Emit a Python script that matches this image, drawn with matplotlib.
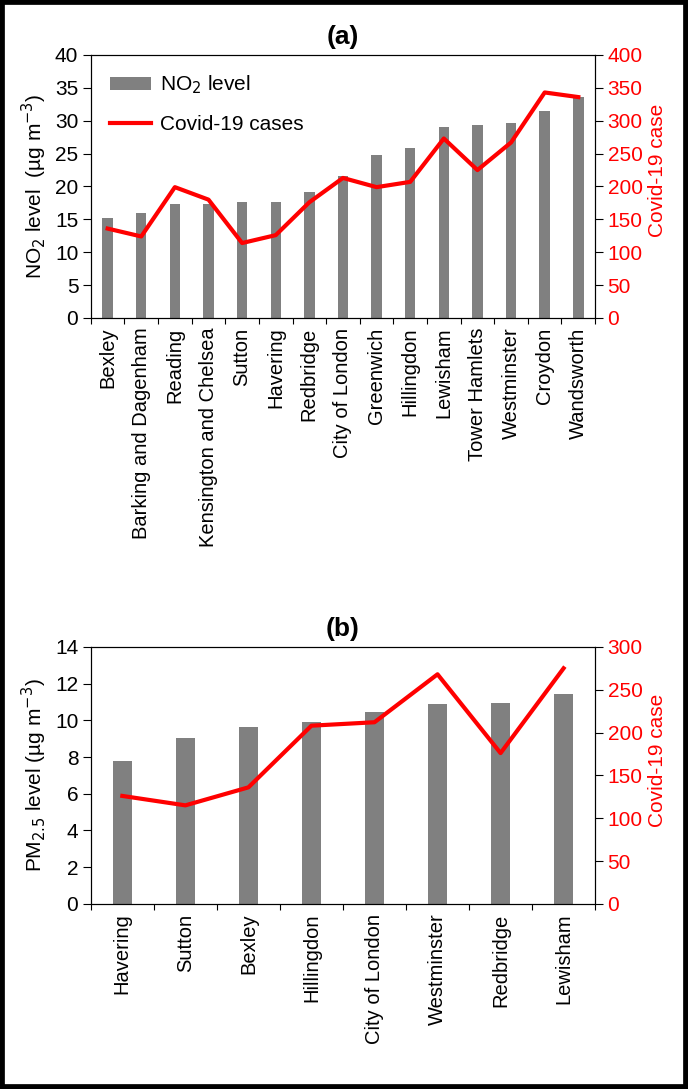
import numpy as np
import matplotlib
matplotlib.use('Agg')
import matplotlib.pyplot as plt
from matplotlib.patches import Rectangle

plt.rcParams['font.family'] = ['Liberation Sans', 'DejaVu Sans']

# panel (a)
boroughsA = ['Bexley', 'Barking and Dagenham', 'Reading', 'Kensington and Chelsea',
             'Sutton', 'Havering', 'Redbridge', 'City of London', 'Greenwich',
             'Hillingdon', 'Lewisham', 'Tower Hamlets', 'Westminster', 'Croydon',
             'Wandsworth']
no2 = [15.2, 15.9, 17.3, 17.3, 17.6, 17.6, 19.2, 21.6, 24.8, 25.8, 29.1, 29.3, 29.6, 31.5, 33.6]
casesA = [136, 124, 199, 180, 114, 126, 176, 213, 199, 207, 273, 225, 267, 343, 336]

# panel (b)
boroughsB = ['Havering', 'Sutton', 'Bexley', 'Hillingdon', 'City of London',
             'Westminster', 'Redbridge', 'Lewisham']
pm25 = [7.78, 9.03, 9.65, 9.88, 10.45, 10.88, 10.95, 11.44]
casesB = [126, 115, 136, 208, 212, 268, 176, 275]

FS = 15
GREY = '#808080'
RED = '#ff0000'

fig = plt.figure(figsize=(6.88, 10.89), dpi=100)


def panel(rect, names, vals, cases, ymax, ystep, rmax, ylabel, title, legend=False):
	ax = fig.add_axes(rect)
	x = np.arange(len(names))
	ax.bar(x, vals, width=0.31, color=GREY, label='NO$_2$ level', zorder=2)
	ax.set_xlim(-0.5, len(names) - 0.5)
	ax.set_ylim(0, ymax)
	ax.set_yticks(np.arange(0, ymax + 0.01, ystep))
	ax.set_xticks(np.arange(-0.5, len(names), 1.0))
	ax.set_xticklabels([])
	ax.set_xticks(x, minor=True)
	ax.set_xticklabels(names, minor=True, rotation=90, fontsize=14.5)
	ax.tick_params(axis='x', which='minor', length=0, pad=7)
	ax.tick_params(axis='x', which='major', length=4, direction='out', width=0.8)
	ax.tick_params(axis='y', labelsize=FS, length=6, direction='out', width=0.8, pad=3)
	ax.set_ylabel(ylabel, fontsize=FS, labelpad=4)
	ax.set_title(title, fontsize=19, fontweight='bold', pad=8)
	for s in ax.spines.values():
		s.set_linewidth(0.8)

	ax2 = ax.twinx()
	ax2.plot(x, cases, color=RED, linewidth=3, label='Covid-19 cases', zorder=3)
	ax2.set_ylim(0, rmax)
	ax2.set_yticks(np.arange(0, rmax + 1, 50))
	ax2.tick_params(axis='y', labelsize=FS, labelcolor=RED, length=6, direction='out', width=0.8, pad=3)
	ax2.set_ylabel('Covid-19 case', fontsize=FS, color=RED, labelpad=4)
	ax2.yaxis.label.set_y(0.56)

	if legend:
		h1, l1 = ax.get_legend_handles_labels()
		h2, l2 = ax2.get_legend_handles_labels()
		ax2.legend(h1 + h2, l1 + l2, loc='upper left', frameon=False, fontsize=FS,
		           handlelength=2.0, handleheight=0.6, borderaxespad=0.5,
		           labelspacing=0.9, handletextpad=0.4)
	return ax, ax2


panel([0.132, 0.708, 0.733, 0.2415], boroughsA, no2, casesA, 40, 5, 400,
      'NO$_2$ level  (µg m$^{-3}$)', '(a)', legend=True)
panel([0.132, 0.170, 0.733, 0.236], boroughsB, pm25, casesB, 14, 2, 300,
      'PM$_{2.5}$ level (µg m$^{-3}$)', '(b)')

# black frame round the whole picture
fig.patches.append(Rectangle((0, 0), 1, 1, transform=fig.transFigure, fill=False,
                             edgecolor='black', linewidth=7, zorder=10))

fig.savefig('out.png', dpi=100)
